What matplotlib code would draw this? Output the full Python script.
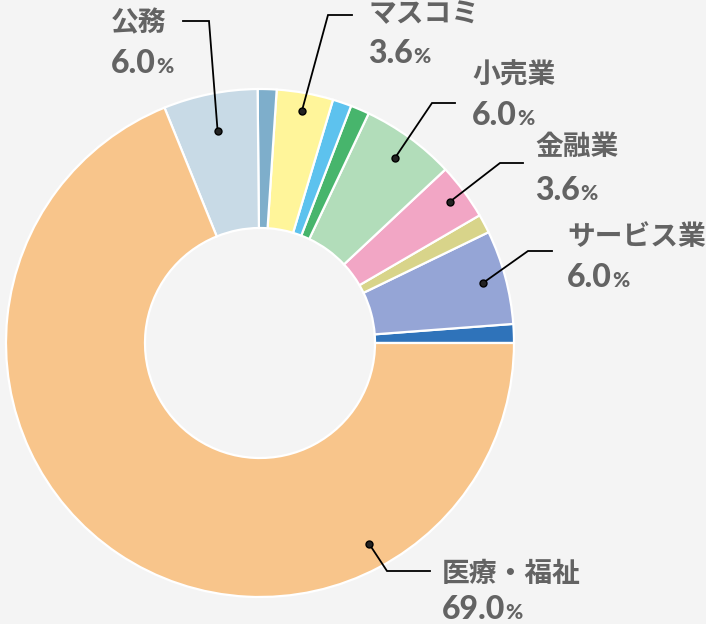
import numpy as np
import matplotlib
matplotlib.use("Agg")
import matplotlib.pyplot as plt

plt.rcParams["font.family"] = ["Noto Sans CJK JP", "DejaVu Sans"]

# slices in counter-clockwise order starting at 3 o'clock
labels = ["", "サービス業", "", "金融業", "小売業", "", "", "マスコミ", "", "公務", "医療・福祉"]
values = [1.2, 6.0, 1.2, 3.6, 6.0, 1.2, 1.2, 3.6, 1.2, 6.0, 69.0]
pct_text = ["", "6.0", "", "3.6", "6.0", "", "", "3.6", "", "6.0", "69.0"]
colors = ["#2F73BA", "#95A5D6", "#D8D48A", "#F2A6C5", "#B2DDBA", "#47B56C",
          "#5DC2EE", "#FFF59A", "#7EAECB", "#C8DAE6", "#F8C58B"]

# layout (pixel coords of the 706x624 canvas, y from top)
W, H = 706, 624
CX, CY, R = 260, 343, 254
HOLE = 115 / 254
layout = {
    # name: (dot frac in wedge, dot radius, elbow, line end, text x, name cy, pct cy)
    "公務": (0.5, 0.85, (209, 21), (183, 21), 111, 23, 63),
    "マスコミ": (0.5, 0.93, (328, 15), (352, 15), 368, 14, 53),
    "小売業": (0.5, 0.90, (432, 103), (455, 103), 472, 76, 115),
    "金融業": (0.5, 0.93, (500, 163), (523, 163), 535, 147, 190),
    "サービス業": (0.5, 0.91, (528, 251), (552, 251), 567, 237, 277),
    "医療・福祉": (0.752, 0.90, (387, 571), (430, 571), 442, 574, 609),
}


def px(x, y):
    return (x - CX) / R, (CY - y) / R


fig = plt.figure(figsize=(W / 100, H / 100), dpi=100)
fig.patch.set_facecolor("#f4f4f4")
ax = fig.add_axes([0, 0, 1, 1])
ax.set_facecolor("#f4f4f4")

wedges, _ = ax.pie(values, colors=colors, startangle=0, counterclock=True,
                   radius=1.0,
                   wedgeprops=dict(width=1 - HOLE, edgecolor="white", linewidth=1.6))

ax.set_xlim(-CX / R, (W - CX) / R)
ax.set_ylim(-(H - CY) / R, CY / R)
ax.axis("off")

txt_color = "#636363"
num_font = ["Lato", "DejaVu Sans"]
num_texts = []
for w, lab, pct in zip(wedges, labels, pct_text):
    if not lab:
        continue
    frac, rr, elbow, end, tx, name_cy, pct_cy = layout[lab]
    ang = np.deg2rad(w.theta1 + frac * (w.theta2 - w.theta1))
    dx, dy = rr * np.cos(ang), rr * np.sin(ang)
    ex, ey = px(*elbow)
    lx, ly = px(*end)
    ax.plot([dx, ex, lx], [dy, ey, ly], color="black", lw=1.3,
            solid_joinstyle="miter")
    ax.plot(dx, dy, "o", ms=5, mfc="#222222", mec="black", mew=1)

    nx, ny = px(tx, name_cy)
    ax.text(nx, ny, lab, ha="left", va="center", fontsize=20,
            fontweight="bold", color=txt_color)

    bx, by = px(tx, pct_cy + 10)
    t = ax.text(bx, by, pct, ha="left", va="baseline", fontsize=23,
                fontweight="black", color=txt_color, family=num_font)
    num_texts.append((t, by))

fig.canvas.draw()
renderer = fig.canvas.get_renderer()
inv = ax.transData.inverted()
for t, by in num_texts:
    bb = t.get_window_extent(renderer)
    x1 = inv.transform((bb.x1, bb.y0))[0]
    ax.text(x1, by, "%", ha="left", va="baseline", fontsize=15,
            fontweight="black", color=txt_color, family=num_font)

fig.savefig("out.png", dpi=100, facecolor=fig.get_facecolor())
